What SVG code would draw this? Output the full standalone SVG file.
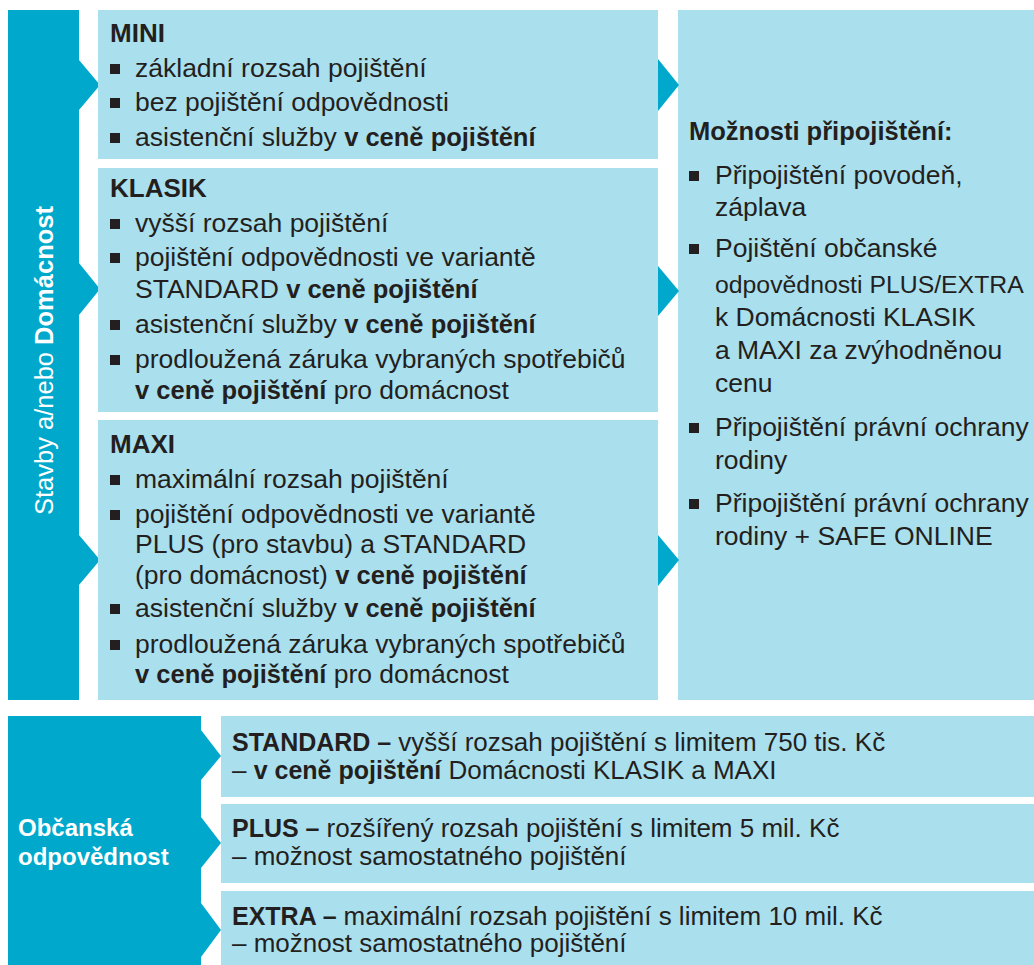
<svg xmlns="http://www.w3.org/2000/svg" width="1034" height="965" viewBox="0 0 1034 965">
<style>
.dark{fill:#00A9CC}
.light{fill:#AADFEE}
text{font-family:"Liberation Sans",Arial,sans-serif;fill:#231F20}
.r{font-size:26.5px}
.b{font-weight:bold;font-size:25.5px}
.h{font-weight:bold;font-size:26px}
.w{fill:#FFFFFF;font-weight:bold}
.br{font-size:26px}
.bb{font-weight:bold;font-size:25px}
.bul{fill:#231F20}
</style>
<rect width="1034" height="965" fill="#FFFFFF"/>

<g id="stavby-bar">
<polygon class="dark" points="8,10 79,10 79,60 100,85 79,110 79,263 100,289 79,315 79,535 100,560 79,585 79,700 8,700"/>
<text class="w" font-size="25.5px" transform="translate(53,515) rotate(-90)"><tspan font-weight="normal">Stavby a/nebo </tspan>Domácnost</text>
</g>

<g id="mini">
<rect class="light" x="98" y="10" width="560" height="149"/>
<text class="h" x="110" y="42">MINI</text>
<rect class="bul" x="110" y="64" width="10" height="10"/>
<text class="r" x="135" y="77">základní rozsah pojištění</text>
<rect class="bul" x="110" y="98" width="10" height="10"/>
<text class="r" x="135" y="111">bez pojištění odpovědnosti</text>
<rect class="bul" x="110" y="133" width="10" height="10"/>
<text class="r" x="135" y="146">asistenční služby <tspan class="b">v ceně pojištění</tspan></text>
</g>

<g id="klasik">
<rect class="light" x="98" y="168" width="560" height="244"/>
<text class="h" x="110" y="197">KLASIK</text>
<rect class="bul" x="110" y="219" width="10" height="10"/>
<text class="r" x="135" y="232">vyšší rozsah pojištění</text>
<rect class="bul" x="110" y="253" width="10" height="10"/>
<text class="r" x="135" y="266">pojištění odpovědnosti ve variantě</text>
<text class="r" x="135" y="298">STANDARD <tspan class="b">v ceně pojištění</tspan></text>
<rect class="bul" x="110" y="320" width="10" height="10"/>
<text class="r" x="135" y="333">asistenční služby <tspan class="b">v ceně pojištění</tspan></text>
<rect class="bul" x="110" y="355" width="10" height="10"/>
<text class="r" x="135" y="368">prodloužená záruka vybraných spotřebičů</text>
<text class="r" x="135" y="399"><tspan class="b">v ceně pojištění</tspan> pro domácnost</text>
</g>

<g id="maxi">
<rect class="light" x="98" y="420" width="560" height="280"/>
<text class="h" x="110" y="453">MAXI</text>
<rect class="bul" x="110" y="475" width="10" height="10"/>
<text class="r" x="135" y="488">maximální rozsah pojištění</text>
<rect class="bul" x="110" y="510" width="10" height="10"/>
<text class="r" x="135" y="523">pojištění odpovědnosti ve variantě</text>
<text class="r" x="135" y="553">PLUS (pro stavbu) a STANDARD</text>
<text class="r" x="135" y="584">(pro domácnost) <tspan class="b">v ceně pojištění</tspan></text>
<rect class="bul" x="110" y="604" width="10" height="10"/>
<text class="r" x="135" y="617">asistenční služby <tspan class="b">v ceně pojištění</tspan></text>
<rect class="bul" x="110" y="640" width="10" height="10"/>
<text class="r" x="135" y="653">prodloužená záruka vybraných spotřebičů</text>
<text class="r" x="135" y="683"><tspan class="b">v ceně pojištění</tspan> pro domácnost</text>
</g>

<g id="pripojisteni">
<rect class="light" x="678" y="10" width="356" height="690"/>
<text class="b" x="689" y="140">Možnosti připojištění:</text>
<rect class="bul" x="689" y="171" width="10" height="10"/>
<text class="r" x="715" y="184">Připojištění povodeň,</text>
<text class="r" x="715" y="216">záplava</text>
<rect class="bul" x="689" y="244" width="10" height="10"/>
<text class="r" x="715" y="257">Pojištění občanské</text>
<text x="715" y="293" font-size="24.8px">odpovědnosti PLUS/EXTRA</text>
<text class="r" x="715" y="326">k Domácnosti KLASIK</text>
<text class="r" x="715" y="359">a MAXI za zvýhodněnou</text>
<text class="r" x="715" y="392">cenu</text>
<rect class="bul" x="689" y="423" width="10" height="10"/>
<text class="r" x="715" y="436">Připojištění právní ochrany</text>
<text class="r" x="715" y="469">rodiny</text>
<rect class="bul" x="689" y="499" width="10" height="10"/>
<text class="r" x="715" y="512">Připojištění právní ochrany</text>
<text class="r" x="715" y="545">rodiny + SAFE ONLINE</text>
</g>

<g id="obcanska-bar">
<polygon class="dark" points="8,716 201,716 201,730 221,756 201,780 201,817 221,843 201,868 201,903 221,930 201,957 201,965 8,965"/>
<text class="w" font-size="24px" x="18" y="836">Občanská</text>
<text class="w" font-size="24px" x="18" y="865">odpovědnost</text>
</g>

<g id="standard">
<rect class="light" x="221" y="716" width="813" height="81"/>
<text class="br" x="232" y="751"><tspan class="bb">STANDARD – </tspan>vyšší rozsah pojištění s limitem 750 tis. Kč</text>
<text class="br" x="232" y="779">– <tspan class="bb">v ceně pojištění</tspan> Domácnosti KLASIK a MAXI</text>
</g>

<g id="plus">
<rect class="light" x="221" y="804" width="813" height="79"/>
<text class="br" x="232" y="837"><tspan class="bb">PLUS – </tspan>rozšířený rozsah pojištění s limitem 5 mil. Kč</text>
<text class="br" x="232" y="865">– možnost samostatného pojištění</text>
</g>

<g id="extra">
<rect class="light" x="221" y="891" width="813" height="74"/>
<text class="br" x="232" y="925"><tspan class="bb">EXTRA – </tspan>maximální rozsah pojištění s limitem 10 mil. Kč</text>
<text class="br" x="232" y="952">– možnost samostatného pojištění</text>
</g>

<g id="connectors">
<polygon class="dark" points="658,59 679,85 658,111"/>
<polygon class="dark" points="658,266 679,291 658,316"/>
<polygon class="dark" points="658,535 679,560 658,586"/>
</g>
</svg>
